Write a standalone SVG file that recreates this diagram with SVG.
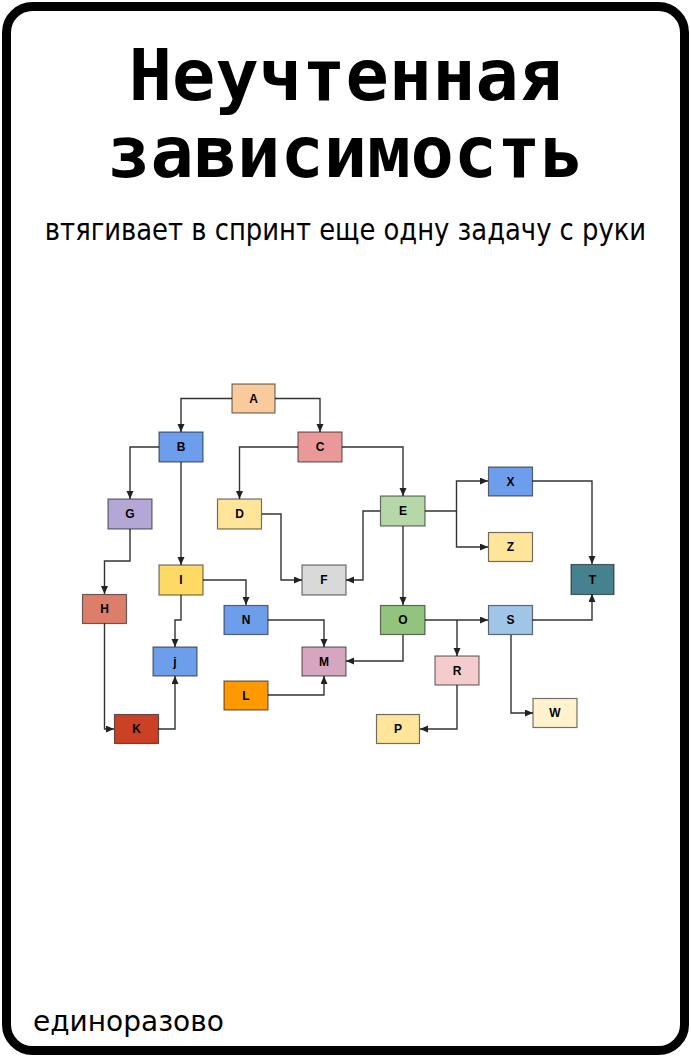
<svg xmlns="http://www.w3.org/2000/svg" width="691" height="1057" viewBox="0 0 691 1057">
<style>
.node rect{stroke:#000;stroke-opacity:0.55;stroke-width:1.2}
.node text{font-family:"Liberation Sans",Arial,sans-serif;font-weight:bold;font-size:12px;fill:#000;text-anchor:middle;dominant-baseline:central}
.edge{fill:none;stroke:#333;stroke-width:1.4;marker-end:url(#arr)}
</style>
<defs>
<marker id="arr" markerUnits="userSpaceOnUse" markerWidth="9" markerHeight="8" refX="8" refY="3.5" orient="auto">
<path d="M0,0 L8,3.5 L0,7 z" fill="#222"/>
</marker>
</defs>
<rect x="6.5" y="6.5" width="678" height="1044" rx="26" ry="26" fill="#fff" stroke="#000" stroke-width="9"/>
<g id="title">
<text x="345.5" y="100" font-family="DejaVu Sans Mono, monospace" font-weight="bold" font-size="72" text-anchor="middle">Неучтенная</text>
<text x="345.5" y="177" font-family="DejaVu Sans Mono, monospace" font-weight="bold" font-size="72" text-anchor="middle">зависимость</text>
</g>
<text id="subtitle" transform="translate(345.5,240) scale(0.927,1)" x="0" y="0" font-family="DejaVu Sans Condensed, DejaVu Sans, sans-serif" font-stretch="condensed" font-size="31" text-anchor="middle">втягивает в спринт еще одну задачу с руки</text>
<text id="footer" x="33" y="1031" font-family="DejaVu Sans, sans-serif" font-size="28">единоразово</text>
<g id="connectors">
<path class="edge" d="M232,398.5 H181 V432"/>
<path class="edge" d="M275,398.5 H320 V432"/>
<path class="edge" d="M159,447 H130 V499"/>
<path class="edge" d="M181,462 V565"/>
<path class="edge" d="M298,447 H239.5 V499"/>
<path class="edge" d="M342,447 H403 V496"/>
<path class="edge" d="M262,514 H281 V580 H302"/>
<path class="edge" d="M380,511 H363 V580 H346"/>
<path class="edge" d="M425,511 H456.5 V481 H488"/>
<path class="edge" d="M456.5,511 V547 H488"/>
<path class="edge" d="M403,526 V605"/>
<path class="edge" d="M532,481 H592 V564"/>
<path class="edge" d="M130,529 V561 H104.5 V594"/>
<path class="edge" d="M203,580 H246 V605"/>
<path class="edge" d="M181,595 V620 H175 V647"/>
<path class="edge" d="M104.5,623 V729 H114"/>
<path class="edge" d="M158,729 H175 V676"/>
<path class="edge" d="M268,620 H324 V647"/>
<path class="edge" d="M268,695 H324 V676"/>
<path class="edge" d="M403,635 V661 H346"/>
<path class="edge" d="M425,620 H488"/>
<path class="edge" d="M457,620 V656"/>
<path class="edge" d="M532,620 H592 V594"/>
<path class="edge" d="M511,635 V713 H533"/>
<path class="edge" d="M457,685 V729 H420"/>
</g>
<g id="node-A" class="node"><rect x="232" y="384" width="43" height="29" fill="#f9cb9c"/><text x="253.5" y="398.5">A</text></g>
<g id="node-B" class="node"><rect x="159" y="432" width="44" height="30" fill="#6d9eeb"/><text x="181" y="447">B</text></g>
<g id="node-C" class="node"><rect x="298" y="432" width="44" height="30" fill="#ea9999"/><text x="320" y="447">C</text></g>
<g id="node-G" class="node"><rect x="108" y="499" width="44" height="30" fill="#b4a7d6"/><text x="130" y="514">G</text></g>
<g id="node-D" class="node"><rect x="217.5" y="499" width="44" height="30" fill="#ffe599"/><text x="239.5" y="514">D</text></g>
<g id="node-E" class="node"><rect x="380.5" y="496" width="44.5" height="30" fill="#b6d7a8"/><text x="403" y="511">E</text></g>
<g id="node-X" class="node"><rect x="488.5" y="467" width="44" height="29" fill="#6d9eeb"/><text x="510.5" y="481.5">X</text></g>
<g id="node-Z" class="node"><rect x="488.5" y="532.5" width="44" height="29" fill="#ffe599"/><text x="510.5" y="547">Z</text></g>
<g id="node-I" class="node"><rect x="159" y="565" width="44" height="30" fill="#ffd966"/><text x="181" y="580">I</text></g>
<g id="node-F" class="node"><rect x="302" y="565" width="44" height="30" fill="#d9d9d9"/><text x="324" y="580">F</text></g>
<g id="node-T" class="node"><rect x="571" y="564.5" width="43" height="30" fill="#45818e"/><text x="592.5" y="579.5">T</text></g>
<g id="node-H" class="node"><rect x="82.5" y="594.5" width="44" height="29" fill="#dd7e6b"/><text x="104.5" y="609">H</text></g>
<g id="node-N" class="node"><rect x="224" y="605.5" width="44" height="29" fill="#6d9eeb"/><text x="246" y="620">N</text></g>
<g id="node-O" class="node"><rect x="380.5" y="605.5" width="44.5" height="29" fill="#93c47d"/><text x="403" y="620">O</text></g>
<g id="node-S" class="node"><rect x="488.5" y="605.5" width="44" height="29" fill="#9fc5e8"/><text x="510.5" y="620">S</text></g>
<g id="node-j" class="node"><rect x="153" y="647" width="44" height="29" fill="#6d9eeb"/><text x="175" y="661.5">j</text></g>
<g id="node-M" class="node"><rect x="302" y="647" width="44" height="29" fill="#d5a6bd"/><text x="324" y="661.5">M</text></g>
<g id="node-R" class="node"><rect x="435" y="656" width="44" height="29" fill="#f4cccc"/><text x="457" y="670.5">R</text></g>
<g id="node-L" class="node"><rect x="224" y="681" width="44" height="29" fill="#ff9900"/><text x="246" y="695.5">L</text></g>
<g id="node-W" class="node"><rect x="533" y="698.5" width="44" height="29" fill="#fff2cc"/><text x="555" y="713">W</text></g>
<g id="node-K" class="node"><rect x="114.5" y="714.5" width="44" height="29" fill="#cc4125"/><text x="136.5" y="729">K</text></g>
<g id="node-P" class="node"><rect x="376.5" y="714.5" width="43" height="29" fill="#ffe599"/><text x="398" y="729">P</text></g>
</svg>
